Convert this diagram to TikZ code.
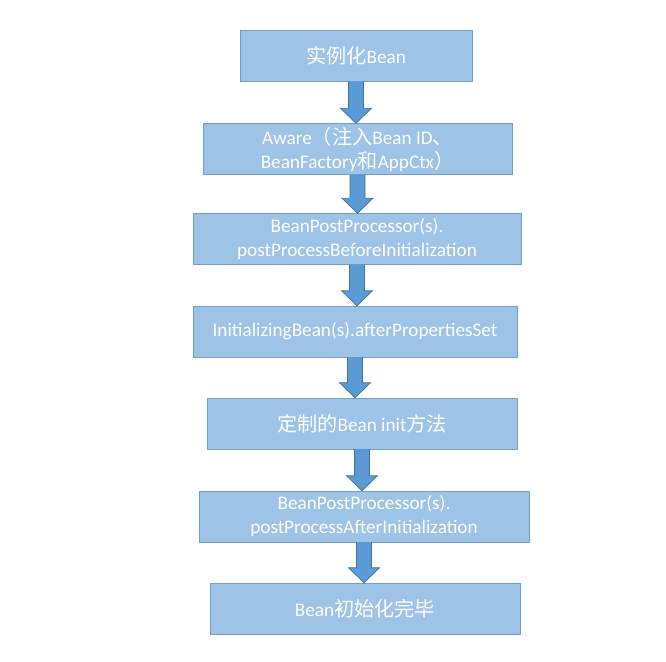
\documentclass[tikz,border=0pt]{standalone}
\usepackage{fontspec}
\setmainfont{Carlito}
\newfontfamily\cjk[Scale=1.05]{Noto Sans CJK SC}
\usetikzlibrary{calc}
\definecolor{boxfill}{HTML}{9DC3E6}
\definecolor{boxline}{HTML}{6F9ED2}
\definecolor{arrowfill}{HTML}{5B9BD5}
\definecolor{arrowline}{HTML}{41719C}

\begin{document}
\begin{tikzpicture}[x=0.03cm,y=-0.03cm,font=\fontsize{16.4}{20.5}\selectfont]
  \tikzset{stagebox/.style={draw=boxline,fill=boxfill,text=white,minimum height=1.53cm,align=center,inner sep=0pt}}
  \tikzset{blockarrow/.style={fill=arrowfill,draw=arrowline,line width=0.6pt,line join=miter}}
  \useasboundingbox (0,0) rectangle (666,661);
  \node[stagebox,minimum width=6.96cm] (inst) at (356,56) {{\cjk 实例化}Bean};
  \node[stagebox,minimum width=9.27cm] (aware) at (357.5,149) {Aware{\cjk（注入}Bean ID{\cjk 、}\\BeanFactory{\cjk 和}AppCtx{\cjk ）}};
  \node[stagebox,minimum width=9.84cm] (before) at (357,239) {BeanPostProcessor(s).\\postProcessBeforeInitialization};
  \node[stagebox,minimum width=9.72cm] (props) at (355,331.5) {InitializingBean(s).afterPropertiesSet};
  \node[stagebox,minimum width=9.30cm] (init) at (362,423.5) {{\cjk 定制的}Bean init{\cjk 方法}};
  \node[stagebox,minimum width=9.90cm] (after) at (364,516.5) {BeanPostProcessor(s).\\postProcessAfterInitialization};
  \node[stagebox,minimum width=9.30cm] (done) at (365,608.5) {Bean{\cjk 初始化完毕}};
  \foreach \a/\b in {inst/aware,aware/before,before/props,props/init,init/after,after/done}
    \draw[blockarrow] let \p1=(\a.south), \p2=(\b.north) in
      (\x1-0.225cm,\y1) -- (\x1-0.225cm,\y2+0.45cm) -- (\x1-0.465cm,\y2+0.45cm) -- (\x1,\y2)
      -- (\x1+0.465cm,\y2+0.45cm) -- (\x1+0.225cm,\y2+0.45cm) -- (\x1+0.225cm,\y1);
\end{tikzpicture}
\end{document}
